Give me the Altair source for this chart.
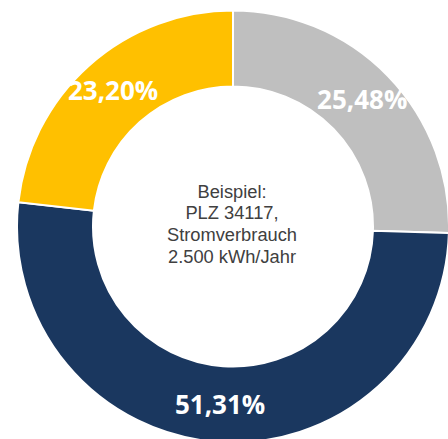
import altair as alt
import pandas as pd

categories = ["Grau", "Blau", "Gelb"]
values = [25.48, 51.31, 23.20]
labels = ["25,48%", "51,31%", "23,20%"]
colors = ["#BFBFBF", "#1A375F", "#FFC000"]
center_lines = ["Beispiel:", "PLZ 34117,", "Stromverbrauch", "2.500 kWh/Jahr"]

df = pd.DataFrame({
    "cat": categories,
    "value": values,
    "label": labels,
    "order": list(range(len(categories))),
})

CX, CY = 233, 226.5

base = alt.Chart(df).encode(
    theta=alt.Theta("value:Q", stack=True),
    order=alt.Order("order:Q"),
    x=alt.value(CX),
    y=alt.value(CY),
)

arcs = base.mark_arc(
    innerRadius=140, outerRadius=216, stroke="white", strokeWidth=2
).encode(
    color=alt.Color("cat:N", scale=alt.Scale(domain=categories, range=colors), legend=None)
)

text = base.mark_text(
    radius=180, font="Open Sans", fontWeight="bold", fontSize=26, color="white",
    align="center", baseline="middle"
).encode(text="label:N")

center = alt.Chart(pd.DataFrame({"a": [0]})).mark_text(
    font="Liberation Sans", fontSize=18.3, color="#404040", lineHeight=21.7,
    align="center", baseline="middle"
).encode(x=alt.value(CX - 1), y=alt.value(CY - 34), text=alt.value(center_lines))

chart = alt.layer(arcs, text, center).properties(
    width=448, height=439, padding=0, autosize=alt.AutoSizeParams(type="none")
).configure_view(stroke=None)

chart.save("out.html", embed_options={"renderer": "svg", "actions": False})
